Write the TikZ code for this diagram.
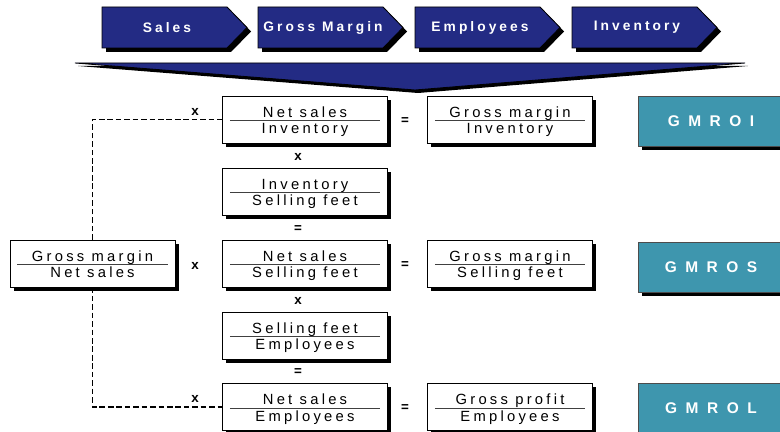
\documentclass[tikz,border=0pt]{standalone}
\usepackage{fontspec}
\setmainfont{Liberation Sans}
\newfontfamily\wideface[LetterSpace=22]{Liberation Sans}
\newfontfamily\tabface[LetterSpace=22]{Liberation Sans}
\newfontfamily\gmface[LetterSpace=55]{Liberation Sans}
\usetikzlibrary{shadows}
\definecolor{navy}{HTML}{232B84}
\definecolor{gmteal}{HTML}{3E96AE}
% numerator over denominator, set a little low as in the chart
\newcommand{\ratio}[2]{\rule{0pt}{11.6pt}#1\\#2\rule[-3pt]{0pt}{3pt}}
\tikzset{
tabarrow/.pic={
  \fill[black] (4,4) -- (129,4) -- (149,24.5) -- (129,45) -- (4,45) -- cycle;
  \draw[fill=navy, line width=0.6pt] (0,0) -- (125,0) -- (145,20.5) -- (125,41) -- (0,41) -- cycle;
  \node[text=white, font=\tabface\bfseries\fontsize{9.8}{11}\selectfont] (-lbl) at (65,20.5) {#1};
  },
boxshadow/.style={drop shadow={shadow xshift=0.09cm, shadow yshift=-0.09cm, fill=black, opacity=1}},
fracbox/.style={draw, line width=0.6pt, fill=white, minimum width=4.12cm, minimum height=1.175cm,
  inner sep=0pt, align=center, font=\wideface\fontsize{10.5}{11.9}\selectfont, boxshadow,
  path picture={\draw[black!75, line width=0.6pt] ([xshift=0.18cm, yshift=-0.025cm]path picture bounding box.west) -- ([xshift=-0.18cm, yshift=-0.025cm]path picture bounding box.east);}},
gmbox/.style={draw=black!70, line width=0.6pt, fill=gmteal, minimum width=3.65cm, minimum height=1.25cm,
  text=white, font=\gmface\bfseries\fontsize{11}{12}\selectfont, boxshadow},
op/.style={inner sep=0pt, font=\bfseries\fontsize{9.5}{10}\selectfont},
link/.style={line width=1.3pt, dash pattern=on 4pt off 2pt}
}
\begin{document}
\begin{tikzpicture}[x=0.025cm, y=-0.025cm]
  \useasboundingbox (0,0) rectangle (780,432);
  % tabs on top
  \pic (sales) at (102,7) {tabarrow=Sales};
  \pic (margin) at (258,7) {tabarrow=Gross Margin};
  \pic (staff) at (415,7) {tabarrow=Employees};
  \pic (stock) at (572,7) {tabarrow=Inventory};
  % funnel
  \fill[black] (78,66) -- (748,66) -- (418,93) -- cycle;
  \draw[fill=navy, line width=0.6pt] (75,63) -- (745,63) -- (415,90) -- cycle;
  % ratios
  \node[fracbox] (gm) at (92.5,263.5) {\ratio{Gross margin}{Net sales}};
  \node[fracbox] (ni) at (305,119.5) {\ratio{Net sales}{Inventory}};
  \node[fracbox] (is) at (305,191.5) {\ratio{Inventory}{Selling feet}};
  \node[fracbox] (ns) at (305,263.5) {\ratio{Net sales}{Selling feet}};
  \node[fracbox] (se) at (305,335.5) {\ratio{Selling feet}{Employees}};
  \node[fracbox] (ne) at (305,407) {\ratio{Net sales}{Employees}};
  \node[fracbox] (gi) at (510,119.5) {\ratio{Gross margin}{Inventory}};
  \node[fracbox] (gs) at (510,263.5) {\ratio{Gross margin}{Selling feet}};
  \node[fracbox] (ge) at (510,407) {\ratio{Gross profit}{Employees}};
  \node[gmbox] (roi) at (711,121.5) {GMROI};
  \node[gmbox] (ros) at (711,267.5) {GMROS};
  \node[gmbox] (rol) at (711,408) {GMROL};
  % operators
  \node[op] (xtop) at (195,112) {x};
  \node[op] (xmid) at (195,266) {x};
  \node[op] (xbot) at (195,399) {x};
  \node[op] (eqtop) at (405,121) {=};
  \node[op] (eqmid) at (405,265) {=};
  \node[op] (eqbot) at (405,408) {=};
  \node[op] (xa) at (298,157) {x};
  \node[op] (eqa) at (298,229) {=};
  \node[op] (xb) at (298,301) {x};
  \node[op] (eqb) at (298,372) {=};
  % dashed links
  \draw[link] (gm.north) |- (ni.west);
  \draw[link] (gm.south) |- (ne.west);
\end{tikzpicture}
\end{document}
